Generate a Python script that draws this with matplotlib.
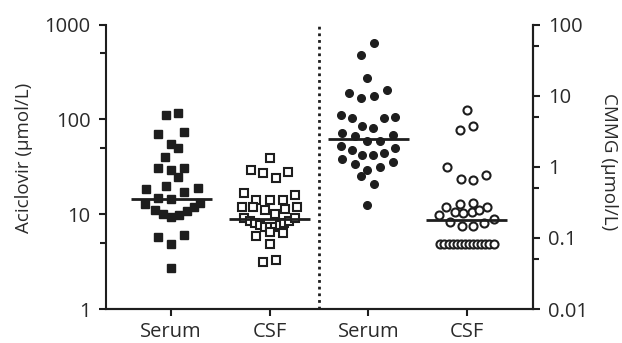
import numpy as np
import matplotlib
matplotlib.use("Agg")
import matplotlib.pyplot as plt
from matplotlib.ticker import FixedLocator, NullFormatter, FixedFormatter

plt.rcParams['font.family'] = ['Open Sans', 'DejaVu Sans']

# group labels and positions on the x axis
groups = ['Serum', 'CSF', 'Serum', 'CSF']
group_x = [1, 2, 3, 4]

# Aciclovir, serum (umol/L) and horizontal offsets
acv_serum = [111, 118, 70, 74, 55, 50, 40, 30.5, 29, 30.5, 24.5, 18.3, 19.8, 17.3,
             18.8, 14.9, 14.4, 12.7, 11.1, 10.0, 9.4, 9.9, 10.9, 12.0, 13.0,
             5.7, 4.9, 6.0, 2.7]
acv_serum_dx = [-0.05, 0.07, -0.13, 0.13, 0.0, 0.07, -0.06, -0.13, 0.0, 0.13, 0.07,
                -0.25, -0.05, 0.13, 0.27, -0.13, 0.0, -0.26, -0.16, -0.08, 0.0,
                0.08, 0.16, 0.23, 0.29, -0.13, 0.0, 0.13, 0.0]

# Aciclovir, CSF
acv_csf = [39.4, 29.3, 27.0, 24.3, 28.1, 16.9, 16.0, 14.1, 14.1, 14.1, 12.0, 12.0,
           11.1, 10.0, 11.3, 12.0, 9.05, 8.5, 8.0, 7.7, 7.4, 7.3, 7.4, 7.7, 8.1,
           8.5, 9.05, 5.9, 6.5, 6.4, 4.8, 3.1, 3.3]
acv_csf_dx = [0.0, -0.19, -0.07, 0.06, 0.19, -0.26, 0.26, -0.14, 0.0, 0.13, -0.28,
              -0.17, -0.05, 0.05, 0.16, 0.28, -0.26, -0.2, -0.15, -0.1, -0.05, 0.0,
              0.05, 0.1, 0.15, 0.2, 0.26, -0.14, 0.0, 0.13, 0.0, -0.07, 0.06]

# CMMG, serum
cmmg_serum = [55.4, 37.6, 17.6, 10.9, 9.4, 9.8, 11.9, 5.3, 4.9, 4.8, 5.1, 3.7, 3.5,
              3.0, 2.7, 2.8, 2.3, 2.3, 1.96, 1.86, 1.7, 1.48, 1.48, 1.56, 1.30,
              1.08, 1.17, 0.89, 0.99, 0.74, 0.58, 0.29]
cmmg_serum_dx = [0.06, -0.07, -0.01, -0.2, -0.07, 0.06, 0.19, -0.28, -0.17, 0.16,
                 0.27, -0.06, 0.05, -0.27, -0.13, 0.25, -0.01, 0.12, -0.28, 0.27,
                 -0.17, -0.06, 0.05, 0.16, -0.27, -0.13, 0.25, -0.01, 0.12, -0.07,
                 0.06, -0.01]

# CMMG, CSF (row at the bottom = below detection limit)
cmmg_csf = [6.35, 3.33, 3.70, 0.99, 0.67, 0.65, 0.76, 0.273, 0.298, 0.305, 0.273,
            0.232, 0.225, 0.232, 0.25, 0.208, 0.187, 0.168, 0.146, 0.146, 0.160,
            0.081, 0.081, 0.081, 0.081, 0.081, 0.081, 0.081, 0.081, 0.081, 0.081,
            0.081, 0.081, 0.081, 0.081]
cmmg_csf_dx = [0.0, -0.07, 0.06, -0.2, -0.06, 0.06, 0.19, -0.21, -0.07, 0.06, 0.2,
               -0.12, -0.04, 0.05, 0.12, -0.28, 0.27, -0.17, -0.05, 0.06, 0.17,
               -0.27, -0.228, -0.186, -0.145, -0.103, -0.062, -0.021, 0.021, 0.062,
               0.103, 0.145, 0.186, 0.228, 0.27]

# medians drawn as horizontal bars
medians = [14.4, 8.8, 2.5, 0.177]

ink = '#1e1e1e'
txt = '#2a2a2a'
fig = plt.figure(figsize=(6.22, 3.43), dpi=100)
ax = fig.add_axes([0.1704, 0.0991, 0.6865, 0.829])
ax2 = ax.twinx()

def xs(center, dx):
    return [center + d for d in dx]

ax.plot(xs(1, acv_serum_dx), acv_serum, 's', ms=5.4, color=ink, mec=ink, zorder=3)
ax.plot(xs(2, acv_csf_dx), acv_csf, 's', ms=5.2, mfc='white', mec=ink, mew=1.5, zorder=3)
ax2.plot(xs(3, cmmg_serum_dx), cmmg_serum, 'o', ms=5.5, color=ink, mec=ink, zorder=3)
ax2.plot(xs(4, cmmg_csf_dx), cmmg_csf, 'o', ms=5.8, mfc='white', mec=ink, mew=1.5, zorder=3)

for i, m in enumerate(medians):
    target = ax if i < 2 else ax2
    target.hlines(m, group_x[i] - 0.41, group_x[i] + 0.41, color=ink, lw=2.0, zorder=4)

# dotted separator between the two analytes
ax.axvline(2.5, color=ink, ls=(0, (1, 1.4)), lw=2.0)

ax.set_xlim(0.34, 4.67)
ax.set_yscale('log')
ax.set_ylim(1, 1000)
ax2.set_yscale('log')
ax2.set_ylim(0.01, 100)

ax.yaxis.set_major_locator(FixedLocator([1, 10, 100, 1000]))
ax.yaxis.set_major_formatter(FixedFormatter(['1', '10', '100', '1000']))
ax.yaxis.set_minor_locator(FixedLocator([5, 50, 500]))
ax.yaxis.set_minor_formatter(NullFormatter())
ax2.yaxis.set_major_locator(FixedLocator([0.01, 0.1, 1, 10, 100]))
ax2.yaxis.set_major_formatter(FixedFormatter(['0.01', '0.1', '1', '10', '100']))
ax2.yaxis.set_minor_locator(FixedLocator([0.05, 0.5, 5, 50]))
ax2.yaxis.set_minor_formatter(NullFormatter())

ax.set_xticks(group_x)
ax.set_xticklabels(groups)

for a in (ax, ax2):
    a.spines['top'].set_visible(False)
    for s in ('left', 'right', 'bottom'):
        a.spines[s].set_linewidth(1.5)
        a.spines[s].set_color(ink)
    a.tick_params(which='major', length=5, width=1.5, color=ink, labelsize=14.5,
                  labelcolor=txt, pad=6)
    a.tick_params(which='minor', length=4, width=1.5, color=ink)
ax.tick_params(axis='x', pad=4)
ax2.spines['left'].set_visible(False)

ax.set_ylabel('Aciclovir (µmol/L)', fontsize=13.5, color=txt, va='center')
ax.yaxis.set_label_coords(-0.192, 0.533)
ax2.set_ylabel('CMMG (µmol/L)', fontsize=13.5, color=txt, rotation=270, va='center')
ax2.yaxis.set_label_coords(1.179, 0.52)

fig.savefig('out.png', dpi=100)
